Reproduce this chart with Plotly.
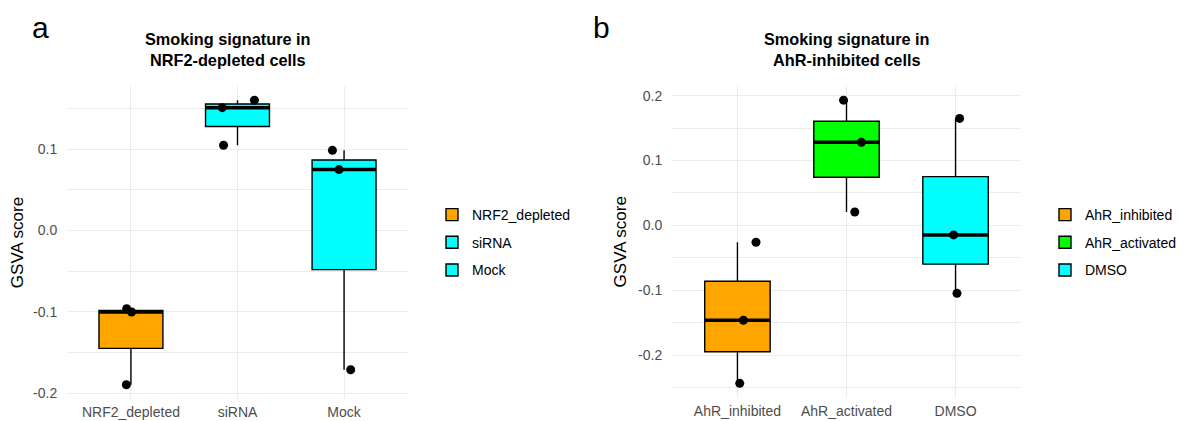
import numpy as np
import plotly.graph_objects as go

# page (browser) size and default body margin of the html page
PAGE_W, PAGE_H = 1185, 421
OFF = 8
W, H = PAGE_W - OFF, PAGE_H - OFF

# ---------------- data ----------------
cats_a = ["NRF2_depleted", "siRNA", "Mock"]
vals_a = [
    [-0.0963, -0.1004, -0.1898],
    [0.1509, 0.1600, 0.1046],
    [0.0984, 0.0747, -0.1713],
]
jit_a = [
    [-0.04, 0.006, -0.043],
    [-0.143, 0.159, -0.131],
    [-0.109, -0.047, 0.062],
]
colors_a = ["#FFA500", "#00FFFF", "#00FFFF"]

cats_b = ["AhR_inhibited", "AhR_activated", "DMSO"]
vals_b = [
    [-0.0261, -0.1464, -0.2437],
    [0.1931, 0.1280, 0.0206],
    [0.1650, -0.0148, -0.1049],
]
jit_b = [
    [0.17, 0.055, 0.021],
    [-0.027, 0.137, 0.076],
    [0.037, -0.018, 0.013],
]
colors_b = ["#FFA500", "#00FF00", "#00FFFF"]

title_a = "<b>Smoking signature in<br>NRF2-depleted cells</b>"
title_b = "<b>Smoking signature in<br>AhR-inhibited cells</b>"
ytitle = "GSVA score"


def px(x):  # page x pixel -> paper fraction
    return (x - OFF) / W


def py(y):  # page y pixel -> paper fraction
    return 1 - (y - OFF) / H


# ---------------- figure ----------------
fig = go.Figure()


def add_panel(cats, vals, jit, colors, xa, ya, legend):
    for i, (c, v, j, col) in enumerate(zip(cats, vals, jit, colors)):
        fig.add_trace(go.Box(
            x=[i] * len(v), y=v, name=c, xaxis=xa, yaxis=ya,
            fillcolor=col, line=dict(color="black", width=1.4),
            width=0.6, whiskerwidth=0, boxpoints=False,
            quartilemethod="inclusive", legend=legend, legendgroup=c + legend,
            showlegend=True, hoverinfo="skip",
        ))
        med = float(np.median(v))
        fig.add_trace(go.Scatter(
            x=[i - 0.3, i + 0.3], y=[med, med], mode="lines",
            line=dict(color="black", width=3.5), xaxis=xa, yaxis=ya,
            showlegend=False, hoverinfo="skip",
        ))
        fig.add_trace(go.Scatter(
            x=[i + d for d in j], y=v, mode="markers",
            marker=dict(color="black", size=9), xaxis=xa, yaxis=ya,
            showlegend=False, hoverinfo="skip",
        ))


add_panel(cats_a, vals_a, jit_a, colors_a, "x", "y", "legend")
add_panel(cats_b, vals_b, jit_b, colors_b, "x2", "y2", "legend2")


def yrange(vals):
    flat = [x for v in vals for x in v]
    lo, hi = min(flat), max(flat)
    pad = 0.05 * (hi - lo)
    return [lo - pad, hi + pad]


grid = "#EBEBEB"
FONT = "Liberation Sans, Arial, sans-serif"
tickfont = dict(family=FONT, size=14, color="#4D4D4D")

xcommon = dict(range=[-0.6, 2.6], tickmode="array", tickvals=[0, 1, 2],
               showgrid=True, gridcolor=grid, gridwidth=1.1, zeroline=False,
               showline=False, ticks="outside",
               tickcolor="rgba(0,0,0,0)", automargin=False, tickfont=tickfont)
ycommon = dict(tickmode="array", showgrid=True, gridcolor=grid, gridwidth=1.1,
               zeroline=False, showline=False, ticks="outside", ticklen=6,
               automargin=False,
               tickcolor="rgba(0,0,0,0)", tickfont=tickfont,
               minor=dict(showgrid=True, gridcolor=grid, gridwidth=0.6,
                          tickmode="array", ticks=""),
               title=dict(text=ytitle, standoff=7,
                          font=dict(family=FONT, size=17, color="black")))

yt_a = [-0.2, -0.1, 0.0, 0.1]
yt_b = [-0.2, -0.1, 0.0, 0.1, 0.2]
minor_a = [-0.15, -0.05, 0.05, 0.15]
minor_b = [-0.25, -0.15, -0.05, 0.05, 0.15]

legfont = dict(family=FONT, size=14, color="black")
fig.update_layout(
    width=W, height=H, margin=dict(l=0, r=0, t=0, b=0),
    paper_bgcolor="white", plot_bgcolor="white",
    xaxis=dict(domain=[px(67), px(408)], ticktext=cats_a, anchor="y", ticklen=0,
               **xcommon),
    xaxis2=dict(domain=[px(672), px(1021)], ticktext=cats_b, anchor="y2", ticklen=1,
                **xcommon),
    yaxis=dict(domain=[py(399), py(86)], range=yrange(vals_a), anchor="x",
               tickvals=yt_a, ticktext=["-0.2", "-0.1", "0.0", "0.1"], **ycommon),
    yaxis2=dict(domain=[py(397.5), py(86)], range=yrange(vals_b), anchor="x2",
                tickvals=yt_b, ticktext=["-0.2", "-0.1", "0.0", "0.1", "0.2"], **ycommon),
    legend=dict(x=px(432), y=py(199), xanchor="left", yanchor="top",
                font=legfont, bgcolor="rgba(0,0,0,0)", tracegroupgap=6.5,
                itemclick=False),
    legend2=dict(x=px(1045), y=py(199), xanchor="left", yanchor="top",
                 font=legfont, bgcolor="rgba(0,0,0,0)", tracegroupgap=6.5,
                 itemclick=False),
    showlegend=True,
)
fig.layout.yaxis.minor.tickvals = minor_a
fig.layout.yaxis2.minor.tickvals = minor_b

titlefont = dict(family=FONT, size=16.3, color="black")
fig.add_annotation(text=title_a, x=px(228), y=py(49.5), xref="paper", yref="paper",
                   showarrow=False, font=titlefont, xanchor="center", yanchor="middle")
fig.add_annotation(text=title_b, x=px(846.7), y=py(49.5), xref="paper", yref="paper",
                   showarrow=False, font=titlefont, xanchor="center", yanchor="middle")
panelfont = dict(family=FONT, size=30, color="black")
fig.add_annotation(text="a", x=px(30), y=py(27), xref="paper", yref="paper",
                   showarrow=False, font=panelfont, xanchor="left", yanchor="middle")
fig.add_annotation(text="b", x=px(591), y=py(27), xref="paper", yref="paper",
                   showarrow=False, font=panelfont, xanchor="left", yanchor="middle")

fig.write_html("out.html")
